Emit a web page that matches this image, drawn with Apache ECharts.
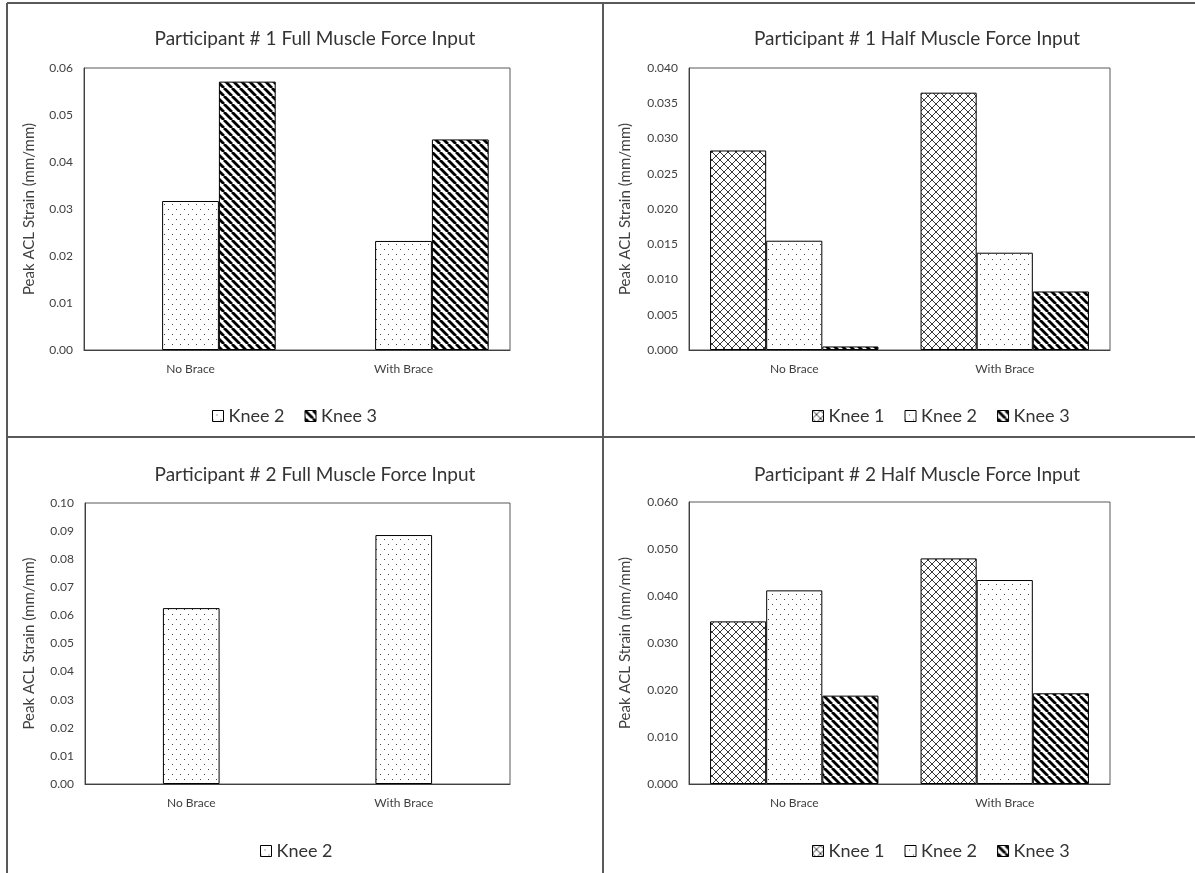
<!DOCTYPE html>
<html>
<head>
<meta charset="utf-8">
<title>Peak ACL Strain</title>
<script src="https://cdn.jsdelivr.net/npm/echarts@6/dist/echarts.min.js"></script>
<style>
  html, body { margin: 0; padding: 0; background: #fff; }
  #chart { width: 1195px; height: 873px; }
</style>
</head>
<body>
<div id="chart"></div>
<script>
// Categories and series names
const categories = ['No Brace', 'With Brace'];
const kneeNames = ['Knee 1', 'Knee 2', 'Knee 3'];

// Peak ACL strain (mm/mm) per panel: [No Brace, With Brace]
const p1FullKnee1 = [null, null];
const p1FullKnee2 = [0.0317, 0.0232];
const p1FullKnee3 = [0.0571, 0.0448];

const p1HalfKnee1 = [0.0283, 0.0365];
const p1HalfKnee2 = [0.0155, 0.0138];
const p1HalfKnee3 = [0.0005, 0.0083];

const p2FullKnee1 = [null, null];
const p2FullKnee2 = [0.0626, 0.0886];
const p2FullKnee3 = [null, null];

const p2HalfKnee1 = [0.0346, 0.0480];
const p2HalfKnee2 = [0.0412, 0.0434];
const p2HalfKnee3 = [0.0188, 0.0193];

// Panel titles and y-axis scales
const titles = [
  'Participant # 1 Full Muscle Force Input',
  'Participant # 1 Half Muscle Force Input',
  'Participant # 2 Full Muscle Force Input',
  'Participant # 2 Half Muscle Force Input'
];
const yMax = [0.06, 0.04, 0.10, 0.06];
const yStep = [0.01, 0.005, 0.01, 0.01];
const yDecimals = [2, 3, 2, 3];
const legendShown = [['Knee 2', 'Knee 3'], ['Knee 1', 'Knee 2', 'Knee 3'], ['Knee 2'], ['Knee 1', 'Knee 2', 'Knee 3']];
const yAxisTitle = 'Peak ACL Strain (mm/mm)';

const panelData = [
  [p1FullKnee1, p1FullKnee2, p1FullKnee3],
  [p1HalfKnee1, p1HalfKnee2, p1HalfKnee3],
  [p2FullKnee1, p2FullKnee2, p2FullKnee3],
  [p2HalfKnee1, p2HalfKnee2, p2HalfKnee3]
];

// Fill patterns drawn on small canvases
function makeTile(w, h, draw) {
  const c = document.createElement('canvas');
  c.width = w; c.height = h;
  const ctx = c.getContext('2d');
  ctx.fillStyle = '#fff';
  ctx.fillRect(0, 0, w, h);
  draw(ctx);
  return c;
}
const crossTile = makeTile(8, 8, ctx => {
  ctx.strokeStyle = '#3a3a3a';
  ctx.lineWidth = 1;
  for (const k of [-8, 0, 8]) {
    ctx.beginPath(); ctx.moveTo(k, 0); ctx.lineTo(k + 8, 8); ctx.stroke();
    ctx.beginPath(); ctx.moveTo(k + 8, 0); ctx.lineTo(k, 8); ctx.stroke();
  }
});
const dotTile = makeTile(8, 10, ctx => {
  ctx.fillStyle = '#444';
  ctx.fillRect(4, 4, 1, 1);
  ctx.fillRect(0, 9, 1, 1);
});
const stripeTile = makeTile(8, 8, ctx => {
  ctx.strokeStyle = '#000';
  ctx.lineWidth = 2.8;
  for (const k of [-8, 0, 8]) {
    ctx.beginPath(); ctx.moveTo(k, 0); ctx.lineTo(k + 8, 8); ctx.stroke();
  }
});
const fills = [
  { image: crossTile, repeat: 'repeat' },
  { image: dotTile, repeat: 'repeat' },
  { image: stripeTile, repeat: 'repeat' }
];

// Panel layout
const grids = [
  { left: 84, top: 68, width: 426, height: 282 },
  { left: 689, top: 68, width: 421, height: 282 },
  { left: 85, top: 503, width: 425, height: 281 },
  { left: 689, top: 502, width: 421, height: 282 }
];
const titlePos = [[310, 24], [912, 24], [310, 460], [912, 460]];
const legendPos = [[207, 402], [807, 402], [255, 837], [807, 837]];
const nameGaps = [47, 56, 48, 56];

const font = 'Lato, "Liberation Sans", sans-serif';
const textColor = '#404040';

const option = {
  animation: false,
  backgroundColor: '#fff',
  title: titles.map((t, i) => ({
    text: t,
    left: titlePos[i][0],
    top: titlePos[i][1],
    textAlign: 'center',
    textStyle: { fontFamily: font, fontSize: 19, fontWeight: 'normal', color: '#333' }
  })),
  legend: legendShown.map((names, i) => ({
    data: names,
    left: legendPos[i][0],
    top: legendPos[i][1],
    orient: 'horizontal',
    itemWidth: 11,
    itemHeight: 11,
    itemGap: 20,
    icon: 'rect',
    selectedMode: false,
    itemStyle: { borderColor: '#000', borderWidth: 1 },
    textStyle: { fontFamily: font, fontSize: 18, color: '#333' }
  })),
  grid: grids.map(g => Object.assign({
    show: true, borderColor: '#595959', borderWidth: 1, backgroundColor: 'transparent'
  }, g)),
  xAxis: grids.map((g, i) => ({
    type: 'category',
    gridIndex: i,
    data: categories,
    axisTick: { show: false },
    axisLine: { lineStyle: { color: '#404040', width: 1 } },
    axisLabel: { fontFamily: font, fontSize: 12, color: textColor, margin: 13 }
  })),
  yAxis: grids.map((g, i) => ({
    type: 'value',
    gridIndex: i,
    min: 0,
    max: yMax[i],
    interval: yStep[i],
    splitLine: { show: false },
    axisTick: { show: false },
    axisLine: { show: true, lineStyle: { color: '#404040', width: 1 } },
    axisLabel: {
      fontFamily: font, fontSize: 12, color: textColor, margin: 11,
      formatter: v => v.toFixed(yDecimals[i])
    },
    name: yAxisTitle,
    nameLocation: 'middle',
    nameRotate: 90,
    nameGap: nameGaps[i],
    nameTextStyle: { fontFamily: font, fontSize: 15, color: textColor }
  })),
  series: [],
  graphic: [
    { type: 'line', shape: { x1: 7, y1: 3, x2: 1195, y2: 3 }, style: { stroke: '#595959', lineWidth: 2 } },
    { type: 'line', shape: { x1: 7, y1: 3, x2: 7, y2: 873 }, style: { stroke: '#595959', lineWidth: 2 } },
    { type: 'line', shape: { x1: 603, y1: 3, x2: 603, y2: 873 }, style: { stroke: '#595959', lineWidth: 2 } },
    { type: 'line', shape: { x1: 7, y1: 437, x2: 1195, y2: 437 }, style: { stroke: '#595959', lineWidth: 2 } }
  ]
};

panelData.forEach((set, p) => {
  set.forEach((vals, k) => {
    option.series.push({
      type: 'bar',
      name: kneeNames[k],
      xAxisIndex: p,
      yAxisIndex: p,
      data: vals,
      barGap: '0%',
      barCategoryGap: '20%',
      itemStyle: { color: fills[k], borderColor: '#000', borderWidth: 1 }
    });
  });
});

const chart = echarts.init(document.getElementById('chart'), null, { renderer: 'canvas' });
chart.setOption(option);
</script>
</body>
</html>
